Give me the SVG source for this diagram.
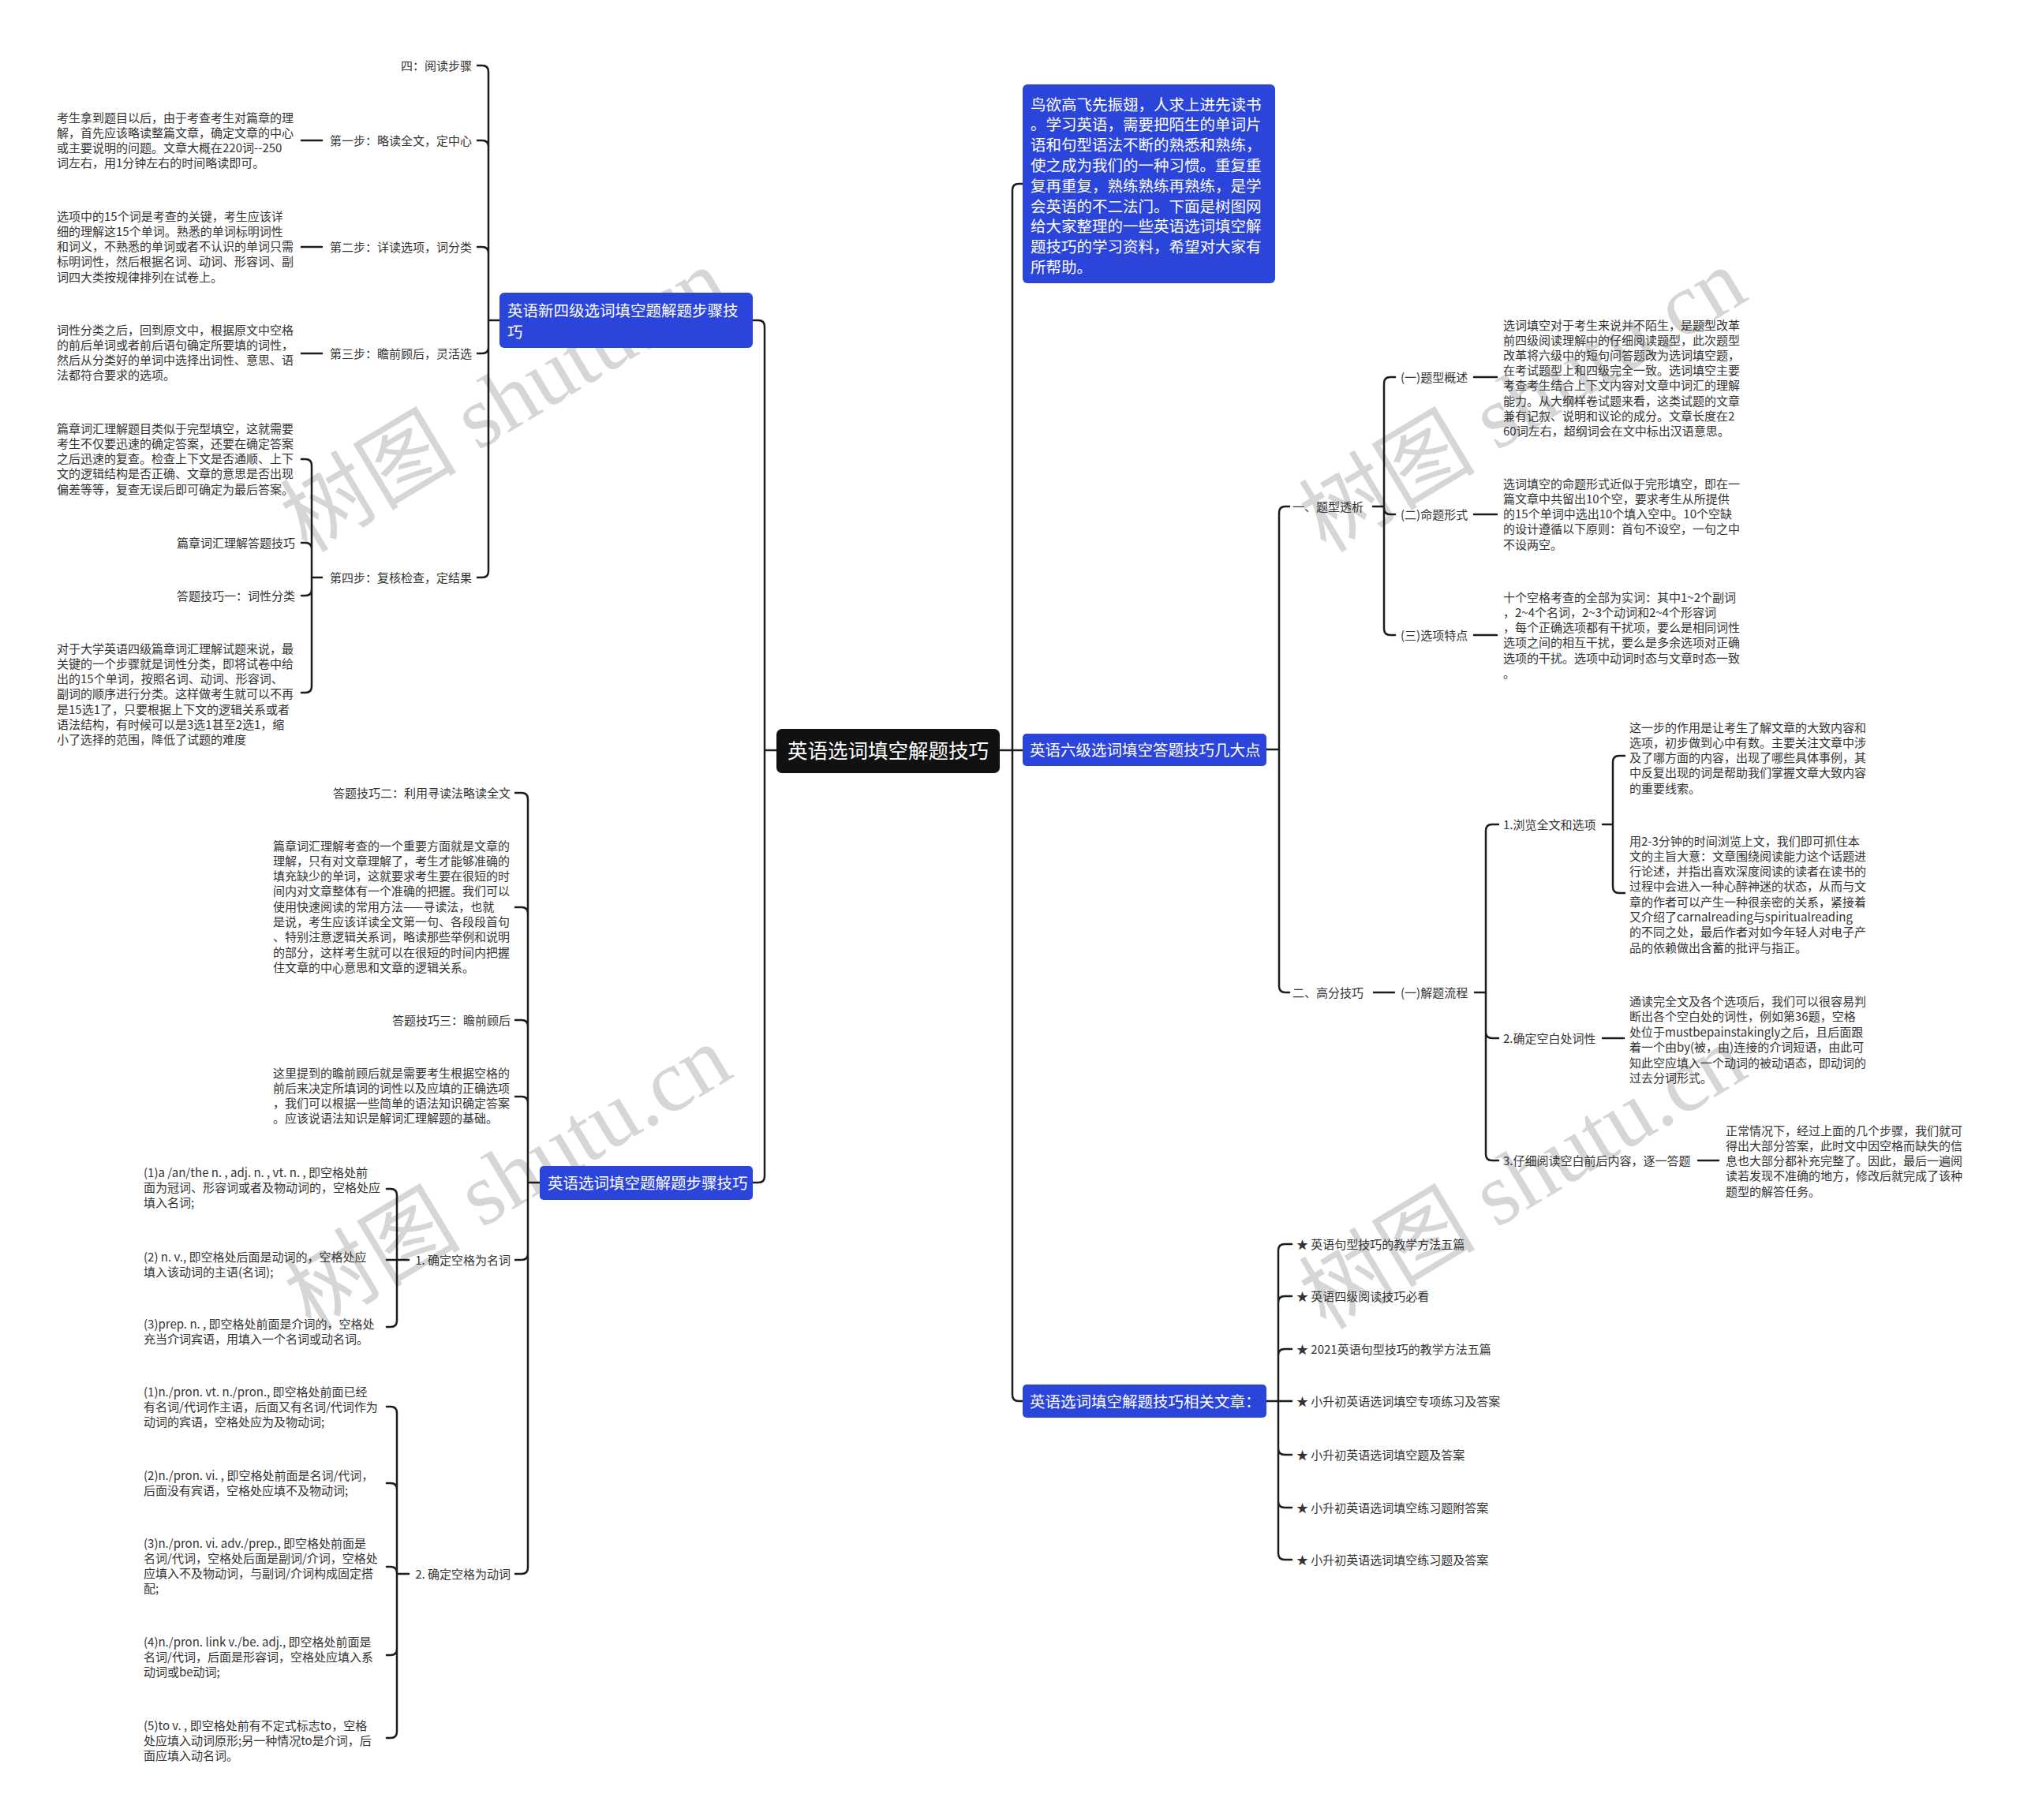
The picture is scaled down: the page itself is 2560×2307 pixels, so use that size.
<svg xmlns="http://www.w3.org/2000/svg" width="2560" height="2307" viewBox="0 0 2560 2307">
<style>
.t{font-family:"Noto Sans CJK SC","Liberation Sans",sans-serif;font-size:15px;fill:#333}
.e{text-anchor:end}
.w{font-family:"Noto Sans CJK SC","Liberation Sans",sans-serif;font-size:19.5px;fill:#fff}
.box{fill:#2b44d9}
.c{fill:none;stroke:#1c1c1c;stroke-width:2.5;stroke-linecap:round;stroke-linejoin:round}
.wm{font-family:"Liberation Serif","Noto Sans CJK SC",serif;font-size:112px;fill:#d6d6d6;text-anchor:middle}
</style>
<rect width="2560" height="2307" fill="#fff"/>
<g id="watermarks">
<text class="wm" transform="rotate(-31 640 509)" x="640" y="545">树图 shutu.cn</text>
<text class="wm" transform="rotate(-31 1931 509)" x="1931" y="545">树图 shutu.cn</text>
<text class="wm" transform="rotate(-31 645 1494)" x="645" y="1530">树图 shutu.cn</text>
<text class="wm" transform="rotate(-31 1931 1494)" x="1931" y="1530">树图 shutu.cn</text>
</g>
<g id="connectors">
<path class="c" d="M1267,951 H1283 M1283,951 V241 Q1283,233 1291,233 H1296 M1283,951 H1296 M1283,951 V1768 Q1283,1776 1291,1776 H1296"/>
<path class="c" d="M984,951 H969 M969,951 V414 Q969,406 961,406 H954 M969,951 V1491 Q969,1499 961,1499 H954"/>
<path class="c" d="M1605,950 H1621 M1621,950 V650 Q1621,642 1629,642 H1634 M1621,950 V1250 Q1621,1258 1629,1258 H1634"/>
<path class="c" d="M1740,642 H1754 M1754,642 V486 Q1754,478 1762,478 H1768 M1754,642 V644 Q1754,652 1762,652 H1768 M1754,642 V797 Q1754,805 1762,805 H1768 M1868,478 H1897 M1868,652 H1897 M1868,805 H1897"/>
<path class="c" d="M1741,1258 H1767 M1869,1258 H1883 M1883,1258 V1053 Q1883,1045 1891,1045 H1899 M1883,1258 V1308 Q1883,1316 1891,1316 H1899 M1883,1258 V1463 Q1883,1471 1891,1471 H1899"/>
<path class="c" d="M2031,1045 H2044 M2044,1045 V966 Q2044,958 2052,958 H2059 M2044,1045 V1124 Q2044,1132 2052,1132 H2059 M2031,1316 H2058 M2152,1471 H2178"/>
<path class="c" d="M1605,1776 H1620 M1620,1776 V1585 Q1620,1577 1628,1577 H1637 M1620,1776 V1651 Q1620,1643 1628,1643 H1637 M1620,1776 V1718 Q1620,1710 1628,1710 H1637 M1620,1776 H1637 M1620,1776 V1836 Q1620,1844 1628,1844 H1637 M1620,1776 V1903 Q1620,1911 1628,1911 H1637 M1620,1776 V1969 Q1620,1977 1628,1977 H1637"/>
<path class="c" d="M633,406 H619 M619,406 V91 Q619,83 611,83 H605 M619,406 V186 Q619,178 611,178 H605 M619,406 V321 Q619,313 611,313 H605 M619,406 V440 Q619,448 611,448 H605 M619,406 V724 Q619,732 611,732 H605 M408,178 H382 M408,313 H382 M408,448 H382"/>
<path class="c" d="M408,732 H395 M395,732 V590 Q395,582 387,582 H382 M395,732 V696 Q395,688 387,688 H382 M395,732 V747 Q395,755 387,755 H382 M395,732 V870 Q395,878 387,878 H382"/>
<path class="c" d="M684,1499 H669 M669,1499 V1013 Q669,1005 661,1005 H653 M669,1499 V1158 Q669,1150 661,1150 H653 M669,1499 V1301 Q669,1293 661,1293 H653 M669,1499 V1398 Q669,1390 661,1390 H653 M669,1499 V1589 Q669,1597 661,1597 H653 M669,1499 V1987 Q669,1995 661,1995 H653"/>
<path class="c" d="M518,1597 H503 M503,1597 V1515 Q503,1507 495,1507 H490 M503,1597 H490 M503,1597 V1674 Q503,1682 495,1682 H490"/>
<path class="c" d="M518,1995 H503 M503,1995 V1791 Q503,1783 495,1783 H490 M503,1995 V1888 Q503,1880 495,1880 H490 M503,1995 V1994 Q503,1986 495,1986 H490 M503,1995 V2090 Q503,2098 495,2098 H490 M503,1995 V2195 Q503,2203 495,2203 H490"/>
</g>
<g id="root">
<rect x="984" y="924" width="283" height="56" rx="7" fill="#111"/>
<text x="1125.5" y="960.5" text-anchor="middle" style="font-family:'Noto Sans CJK SC','Liberation Sans',sans-serif;font-size:25.5px;fill:#fff">英语选词填空解题技巧</text>
</g>
<g id="intro">
<rect class="box" x="1296" y="107" width="320" height="252" rx="6"/>
<text class="w" x="1306" y="139.5"><tspan x="1306" dy="0">鸟欲高飞先振翅，人求上进先读书</tspan><tspan x="1306" dy="25.8">。学习英语，需要把陌生的单词片</tspan><tspan x="1306" dy="25.8">语和句型语法不断的熟悉和熟练，</tspan><tspan x="1306" dy="25.8">使之成为我们的一种习惯。重复重</tspan><tspan x="1306" dy="25.8">复再重复，熟练熟练再熟练，是学</tspan><tspan x="1306" dy="25.8">会英语的不二法门。下面是树图网</tspan><tspan x="1306" dy="25.8">给大家整理的一些英语选词填空解</tspan><tspan x="1306" dy="25.8">题技巧的学习资料，希望对大家有</tspan><tspan x="1306" dy="25.8">所帮助。</tspan></text>
</g>
<g id="cet6">
<rect class="box" x="1296" y="930" width="309" height="41" rx="5"/>
<text class="w" x="1305" y="957.5">英语六级选词填空答题技巧几大点</text>
</g>
<g id="related">
<rect class="box" x="1296" y="1755" width="309" height="42" rx="5"/>
<text class="w" x="1305" y="1783.5">英语选词填空解题技巧相关文章：</text>
</g>
<g id="cet4">
<rect class="box" x="633" y="371" width="321" height="70" rx="6"/>
<text class="w" x="643" y="400.5"><tspan x="643" dy="0">英语新四级选词填空题解题步骤技</tspan><tspan x="643" dy="27">巧</tspan></text>
</g>
<g id="steps">
<rect class="box" x="684" y="1478" width="270" height="43" rx="5"/>
<text class="w" x="694" y="1507">英语选词填空题解题步骤技巧</text>
</g>
<g id="cet4-children">
<text class="t e" x="598" y="88.5">四：阅读步骤</text>
<text class="t e" x="598" y="183.5">第一步：略读全文，定中心</text>
<text class="t e" x="598" y="318.5">第二步：详读选项，词分类</text>
<text class="t e" x="598" y="453.5">第三步：瞻前顾后，灵活选</text>
<text class="t e" x="598" y="737.5">第四步：复核检查，定结果</text>
<text class="t" x="72" y="154.5"><tspan x="72" dy="0">考生拿到题目以后，由于考查考生对篇章的理</tspan><tspan x="72" dy="19.3">解，首先应该略读整篇文章，确定文章的中心</tspan><tspan x="72" dy="19.3">或主要说明的问题。文章大概在220词--250</tspan><tspan x="72" dy="19.3">词左右，用1分钟左右的时间略读即可。</tspan></text>
<text class="t" x="72" y="279.5"><tspan x="72" dy="0">选项中的15个词是考查的关键，考生应该详</tspan><tspan x="72" dy="19.3">细的理解这15个单词。熟悉的单词标明词性</tspan><tspan x="72" dy="19.3">和词义，不熟悉的单词或者不认识的单词只需</tspan><tspan x="72" dy="19.3">标明词性，然后根据名词、动词、形容词、副</tspan><tspan x="72" dy="19.3">词四大类按规律排列在试卷上。</tspan></text>
<text class="t" x="72" y="423.5"><tspan x="72" dy="0">词性分类之后，回到原文中，根据原文中空格</tspan><tspan x="72" dy="19.3">的前后单词或者前后语句确定所要填的词性，</tspan><tspan x="72" dy="19.3">然后从分类好的单词中选择出词性、意思、语</tspan><tspan x="72" dy="19.3">法都符合要求的选项。</tspan></text>
<text class="t" x="72" y="548.5"><tspan x="72" dy="0">篇章词汇理解题目类似于完型填空，这就需要</tspan><tspan x="72" dy="19.3">考生不仅要迅速的确定答案，还要在确定答案</tspan><tspan x="72" dy="19.3">之后迅速的复查。检查上下文是否通顺、上下</tspan><tspan x="72" dy="19.3">文的逻辑结构是否正确、文章的意思是否出现</tspan><tspan x="72" dy="19.3">偏差等等，复查无误后即可确定为最后答案。</tspan></text>
<text class="t e" x="374" y="693.5">篇章词汇理解答题技巧</text>
<text class="t e" x="374" y="760.5">答题技巧一：词性分类</text>
<text class="t" x="72" y="827.5"><tspan x="72" dy="0">对于大学英语四级篇章词汇理解试题来说，最</tspan><tspan x="72" dy="19.3">关键的一个步骤就是词性分类，即将试卷中给</tspan><tspan x="72" dy="19.3">出的15个单词，按照名词、动词、形容词、</tspan><tspan x="72" dy="19.3">副词的顺序进行分类。这样做考生就可以不再</tspan><tspan x="72" dy="19.3">是15选1了，只要根据上下文的逻辑关系或者</tspan><tspan x="72" dy="19.3">语法结构，有时候可以是3选1甚至2选1，缩</tspan><tspan x="72" dy="19.3">小了选择的范围，降低了试题的难度</tspan></text>
</g>
<g id="steps-children">
<text class="t e" x="647" y="1010.5">答题技巧二：利用寻读法略读全文</text>
<text class="t" x="346" y="1077.5"><tspan x="346" dy="0">篇章词汇理解考查的一个重要方面就是文章的</tspan><tspan x="346" dy="19.3">理解，只有对文章理解了，考生才能够准确的</tspan><tspan x="346" dy="19.3">填充缺少的单词，这就要求考生要在很短的时</tspan><tspan x="346" dy="19.3">间内对文章整体有一个准确的把握。我们可以</tspan><tspan x="346" dy="19.3">使用快速阅读的常用方法——寻读法，也就</tspan><tspan x="346" dy="19.3">是说，考生应该详读全文第一句、各段段首句</tspan><tspan x="346" dy="19.3">、特别注意逻辑关系词，略读那些举例和说明</tspan><tspan x="346" dy="19.3">的部分，这样考生就可以在很短的时间内把握</tspan><tspan x="346" dy="19.3">住文章的中心意思和文章的逻辑关系。</tspan></text>
<text class="t e" x="647" y="1298.5">答题技巧三：瞻前顾后</text>
<text class="t" x="346" y="1365.5"><tspan x="346" dy="0">这里提到的瞻前顾后就是需要考生根据空格的</tspan><tspan x="346" dy="19.3">前后来决定所填词的词性以及应填的正确选项</tspan><tspan x="346" dy="19.3">，我们可以根据一些简单的语法知识确定答案</tspan><tspan x="346" dy="19.3">。应该说语法知识是解词汇理解题的基础。</tspan></text>
<text class="t e" x="647" y="1602.5">1. 确定空格为名词</text>
<text class="t e" x="647" y="2000.5">2. 确定空格为动词</text>
<text class="t" x="182" y="1491.5"><tspan x="182" dy="0">(1)a /an/the n. , adj. n. , vt. n. , 即空格处前</tspan><tspan x="182" dy="19.3">面为冠词、形容词或者及物动词的，空格处应</tspan><tspan x="182" dy="19.3">填入名词;</tspan></text>
<text class="t" x="182" y="1598.5"><tspan x="182" dy="0">(2) n. v., 即空格处后面是动词的，空格处应</tspan><tspan x="182" dy="19.3">填入该动词的主语(名词);</tspan></text>
<text class="t" x="182" y="1683.5"><tspan x="182" dy="0">(3)prep. n. , 即空格处前面是介词的，空格处</tspan><tspan x="182" dy="19.3">充当介词宾语，用填入一个名词或动名词。</tspan></text>
<text class="t" x="182" y="1769.5"><tspan x="182" dy="0">(1)n./pron. vt. n./pron., 即空格处前面已经</tspan><tspan x="182" dy="19.3">有名词/代词作主语，后面又有名词/代词作为</tspan><tspan x="182" dy="19.3">动词的宾语，空格处应为及物动词;</tspan></text>
<text class="t" x="182" y="1875.5"><tspan x="182" dy="0">(2)n./pron. vi. , 即空格处前面是名词/代词，</tspan><tspan x="182" dy="19.3">后面没有宾语，空格处应填不及物动词;</tspan></text>
<text class="t" x="182" y="1961.5"><tspan x="182" dy="0">(3)n./pron. vi. adv./prep., 即空格处前面是</tspan><tspan x="182" dy="19.3">名词/代词，空格处后面是副词/介词，空格处</tspan><tspan x="182" dy="19.3">应填入不及物动词，与副词/介词构成固定搭</tspan><tspan x="182" dy="19.3">配;</tspan></text>
<text class="t" x="182" y="2086.5"><tspan x="182" dy="0">(4)n./pron. link v./be. adj., 即空格处前面是</tspan><tspan x="182" dy="19.3">名词/代词，后面是形容词，空格处应填入系</tspan><tspan x="182" dy="19.3">动词或be动词;</tspan></text>
<text class="t" x="182" y="2192.5"><tspan x="182" dy="0">(5)to v. , 即空格处前有不定式标志to，空格</tspan><tspan x="182" dy="19.3">处应填入动词原形;另一种情况to是介词，后</tspan><tspan x="182" dy="19.3">面应填入动名词。</tspan></text>
</g>
<g id="cet6-children">
<text class="t" x="1638" y="647.5">一、题型透析</text>
<text class="t" x="1638" y="1263.5">二、高分技巧</text>
<text class="t" x="1775" y="483.5">(一)题型概述</text>
<text class="t" x="1775" y="657.5">(二)命题形式</text>
<text class="t" x="1775" y="810.5">(三)选项特点</text>
<text class="t" x="1905" y="417.5"><tspan x="1905" dy="0">选词填空对于考生来说并不陌生，是题型改革</tspan><tspan x="1905" dy="19.2">前四级阅读理解中的仔细阅读题型，此次题型</tspan><tspan x="1905" dy="19.2">改革将六级中的短句问答题改为选词填空题，</tspan><tspan x="1905" dy="19.2">在考试题型上和四级完全一致。选词填空主要</tspan><tspan x="1905" dy="19.2">考查考生结合上下文内容对文章中词汇的理解</tspan><tspan x="1905" dy="19.2">能力。从大纲样卷试题来看，这类试题的文章</tspan><tspan x="1905" dy="19.2">兼有记叙、说明和议论的成分。文章长度在2</tspan><tspan x="1905" dy="19.2">60词左右，超纲词会在文中标出汉语意思。</tspan></text>
<text class="t" x="1905" y="618.5"><tspan x="1905" dy="0">选词填空的命题形式近似于完形填空，即在一</tspan><tspan x="1905" dy="19.3">篇文章中共留出10个空，要求考生从所提供</tspan><tspan x="1905" dy="19.3">的15个单词中选出10个填入空中。10个空缺</tspan><tspan x="1905" dy="19.3">的设计遵循以下原则：首句不设空，一句之中</tspan><tspan x="1905" dy="19.3">不设两空。</tspan></text>
<text class="t" x="1905" y="762.5"><tspan x="1905" dy="0">十个空格考查的全部为实词：其中1~2个副词</tspan><tspan x="1905" dy="19.3">，2~4个名词，2~3个动词和2~4个形容词</tspan><tspan x="1905" dy="19.3">，每个正确选项都有干扰项，要么是相同词性</tspan><tspan x="1905" dy="19.3">选项之间的相互干扰，要么是多余选项对正确</tspan><tspan x="1905" dy="19.3">选项的干扰。选项中动词时态与文章时态一致</tspan><tspan x="1905" dy="19.3">。</tspan></text>
<text class="t" x="1775" y="1263.5">(一)解题流程</text>
<text class="t" x="1905" y="1050.5">1.浏览全文和选项</text>
<text class="t" x="1905" y="1321.5">2.确定空白处词性</text>
<text class="t" x="1905" y="1476.5">3.仔细阅读空白前后内容，逐一答题</text>
<text class="t" x="2065" y="927.5"><tspan x="2065" dy="0">这一步的作用是让考生了解文章的大致内容和</tspan><tspan x="2065" dy="19.3">选项，初步做到心中有数。主要关注文章中涉</tspan><tspan x="2065" dy="19.3">及了哪方面的内容，出现了哪些具体事例，其</tspan><tspan x="2065" dy="19.3">中反复出现的词是帮助我们掌握文章大致内容</tspan><tspan x="2065" dy="19.3">的重要线索。</tspan></text>
<text class="t" x="2065" y="1071.5"><tspan x="2065" dy="0">用2-3分钟的时间浏览上文，我们即可抓住本</tspan><tspan x="2065" dy="19.3">文的主旨大意：文章围绕阅读能力这个话题进</tspan><tspan x="2065" dy="19.3">行论述，并指出喜欢深度阅读的读者在读书的</tspan><tspan x="2065" dy="19.3">过程中会进入一种心醉神迷的状态，从而与文</tspan><tspan x="2065" dy="19.3">章的作者可以产生一种很亲密的关系，紧接着</tspan><tspan x="2065" dy="19.3">又介绍了carnalreading与spiritualreading</tspan><tspan x="2065" dy="19.3">的不同之处，最后作者对如今年轻人对电子产</tspan><tspan x="2065" dy="19.3">品的依赖做出含蓄的批评与指正。</tspan></text>
<text class="t" x="2065" y="1274.5"><tspan x="2065" dy="0">通读完全文及各个选项后，我们可以很容易判</tspan><tspan x="2065" dy="19.5">断出各个空白处的词性，例如第36题，空格</tspan><tspan x="2065" dy="19.5">处位于mustbepainstakingly之后，且后面跟</tspan><tspan x="2065" dy="19.5">着一个由by(被，由)连接的介词短语，由此可</tspan><tspan x="2065" dy="19.5">知此空应填入一个动词的被动语态，即动词的</tspan><tspan x="2065" dy="19.5">过去分词形式。</tspan></text>
<text class="t" x="2187" y="1438.5"><tspan x="2187" dy="0">正常情况下，经过上面的几个步骤，我们就可</tspan><tspan x="2187" dy="19.3">得出大部分答案，此时文中因空格而缺失的信</tspan><tspan x="2187" dy="19.3">息也大部分都补充完整了。因此，最后一遍阅</tspan><tspan x="2187" dy="19.3">读若发现不准确的地方，修改后就完成了该种</tspan><tspan x="2187" dy="19.3">题型的解答任务。</tspan></text>
</g>
<g id="related-children">
<text class="t" x="1643" y="1582.5">★ 英语句型技巧的教学方法五篇</text>
<text class="t" x="1643" y="1648.5">★ 英语四级阅读技巧必看</text>
<text class="t" x="1643" y="1715.5">★ 2021英语句型技巧的教学方法五篇</text>
<text class="t" x="1643" y="1781.5">★ 小升初英语选词填空专项练习及答案</text>
<text class="t" x="1643" y="1849.5">★ 小升初英语选词填空题及答案</text>
<text class="t" x="1643" y="1916.5">★ 小升初英语选词填空练习题附答案</text>
<text class="t" x="1643" y="1982.5">★ 小升初英语选词填空练习题及答案</text>
</g>
</svg>
